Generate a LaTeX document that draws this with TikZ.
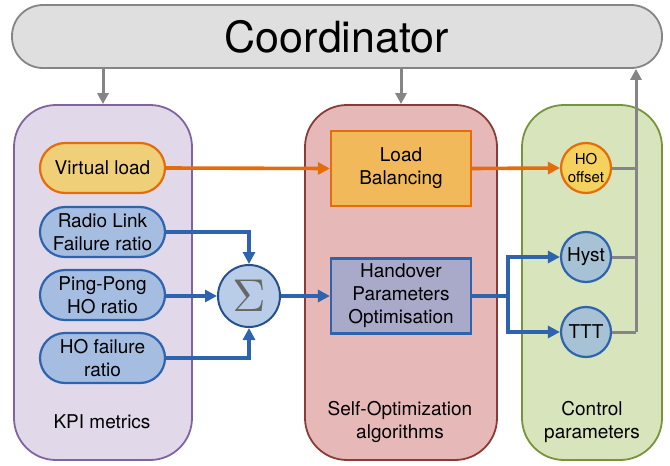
\documentclass[tikz,border=0pt]{standalone}
\usepackage{graphicx}
\usepackage{fontspec}
\setmainfont{TeX Gyre Heros}
\usetikzlibrary{arrows.meta}
\definecolor{coordfill}{HTML}{DFDFDF}
\definecolor{greyline}{HTML}{858585}
\definecolor{kpifill}{HTML}{E1D9E9}
\definecolor{kpidraw}{HTML}{8064A2}
\definecolor{sonfill}{HTML}{E6B9B8}
\definecolor{sondraw}{HTML}{8B3B37}
\definecolor{ctrlfill}{HTML}{D8E4BC}
\definecolor{ctrldraw}{HTML}{77933C}
\definecolor{orangeline}{HTML}{E46C0A}
\definecolor{blueline}{HTML}{2E63AE}
\definecolor{loadfill}{HTML}{EFCF78}
\definecolor{metricfill}{HTML}{A6BDE2}
\definecolor{sumfill}{HTML}{B9CDE9}
\definecolor{sumdraw}{HTML}{264F8C}
\definecolor{lbfill}{HTML}{F2B95B}
\definecolor{hpofill}{HTML}{A9AAC9}
\definecolor{offfill}{HTML}{F5D25E}
\definecolor{parfill}{HTML}{A6C2D4}

\begin{document}
\begin{tikzpicture}[x=1pt,y=-1pt]
    \tikzset{%
      txt/.style={font=\fontsize{19}{23}\selectfont, align=center},
      group/.style={draw, line width=1.8pt, rounded corners=42pt,
        minimum width=#1, minimum height=355pt, inner sep=0pt},
      pill/.style={txt, draw, line width=2.2pt, rounded corners=25pt,
        minimum width=125pt, minimum height=50pt, inner sep=0pt},
      algo/.style={txt, draw, line width=2.2pt, minimum width=140pt,
        minimum height=75pt, inner sep=0pt},
      param/.style={txt, circle, draw, line width=2.2pt,
        minimum size=50pt, inner sep=0pt},
      greyarr/.style={draw=greyline, line width=3pt,
        -{Triangle[length=11pt,width=11pt]}},
      greyln/.style={draw=greyline, line width=3pt},
      orangearr/.style={draw=orangeline, line width=3.6pt,
        -{Triangle[length=12pt,width=12pt]}},
      bluearr/.style={draw=blueline, line width=3.6pt,
        -{Triangle[length=12pt,width=12pt]}},
    }
    \useasboundingbox (0,0) rectangle (670,466);

    % coordinator on top
    \node[draw=greyline, fill=coordfill, line width=1.8pt, rounded corners=31pt,
      minimum width=650pt, minimum height=63pt,
      font=\fontsize{43}{43}\selectfont] (coord) at (337,36.5) {Coordinator};

    % the three groups
    \node[group=178pt, fill=kpifill, draw=kpidraw] (kpi) at (103,282.5) {};
    \node[group=192pt, fill=sonfill, draw=sondraw] (son) at (401,282.5) {};
    \node[group=140pt, fill=ctrlfill, draw=ctrldraw] (ctrl) at (592,282.5) {};
    \node[txt] (kpilab) at (102,422) {KPI metrics};
    \node[txt] (sonlab) at (400,422) {Self-Optimization\\algorithms};
    \node[txt] (ctrllab) at (592,422) {Control\\parameters};

    % KPI metrics
    \node[pill, fill=loadfill, draw=orangeline] (vload) at (102.5,168) {Virtual load};
    \node[pill, fill=metricfill, draw=blueline] (rlf) at (102.5,232) {Radio Link\\Failure ratio};
    \node[pill, fill=metricfill, draw=blueline] (pp) at (102.5,295) {Ping-Pong\\HO ratio};
    \node[pill, fill=metricfill, draw=blueline] (hof) at (102.5,358) {HO failure\\ratio};
    \node[circle, draw=sumdraw, fill=sumfill, line width=2pt, minimum size=62pt,
      inner sep=0pt, text=black!60] (sum) at (249,296) {\scalebox{4.6}{$\Sigma$}};

    % algorithms
    \node[algo, fill=lbfill, draw=orangeline] (lb) at (401,168.5) {Load\\Balancing};
    \node[algo, fill=hpofill, draw=blueline] (hpo) at (401,296) {Handover\\Parameters\\Optimisation};

    % control parameters
    \node[param, fill=offfill, draw=orangeline, font=\fontsize{15}{18}\selectfont] (hooff) at (586,168) {HO\\offset};
    \node[param, fill=parfill, draw=blueline] (hyst) at (586,257) {Hyst};
    \node[param, fill=parfill, draw=blueline] (ttt) at (586,332) {TTT};

    % connectors
    \draw[greyarr] (kpi.north |- coord.south) -- (kpi.north);
    \draw[greyarr] (son.north |- coord.south) -- (son.north);
    \draw[orangearr] (vload.east) -- (lb.west);
    \draw[orangearr] (lb.east) -- (hooff.west);
    \draw[bluearr] (rlf.east) -| (sum.north);
    \draw[bluearr] (pp.east |- sum.west) -- (sum.west);
    \draw[bluearr] (hof.east) -| (sum.south);
    \draw[bluearr] (sum.east) -- (hpo.west);
    \coordinate (split) at (508,296);
    \draw[bluearr] (hpo.east) -- (split) |- (hyst.west);
    \draw[bluearr] (split) |- (ttt.west);
    \coordinate (bus) at (636,332);
    \draw[greyln] (ttt.east) -- (bus);
    \draw[greyln] (hyst.east) -- (hyst.east -| bus);
    \draw[greyln] (hooff.east) -- (hooff.east -| bus);
    \draw[greyarr] (bus) -- (bus |- coord.south);
\end{tikzpicture}
\end{document}
